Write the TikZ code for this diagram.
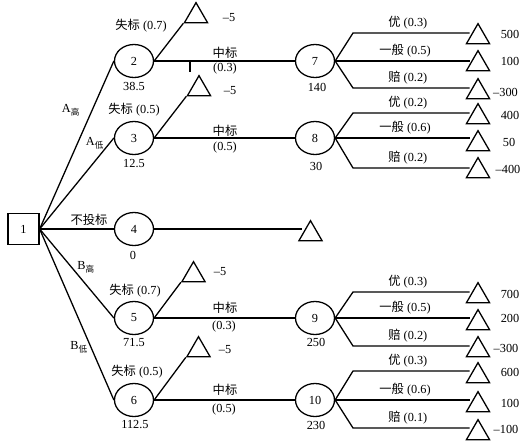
\documentclass[tikz,border=0pt]{standalone}
\usepackage{fontspec}
\setmainfont{Liberation Serif}
\newfontfamily\cjk{Noto Sans CJK SC}
\usetikzlibrary{shapes.geometric}
\newcommand{\zh}[1]{{\cjk #1}}

\begin{document}
\begin{tikzpicture}[
  x=0.03cm, y=-0.03cm,
  font=\fontsize{10.5}{12}\selectfont,
  line width=1.1pt,
  decision/.style={draw, minimum size=0.93cm, inner sep=0},
  chance/.style={draw, ellipse, minimum width=1.17cm, minimum height=0.99cm, inner sep=0},
  leaf/.style={draw, regular polygon, regular polygon sides=3, minimum size=0.8cm, inner sep=0},
  lbl/.style={inner sep=1pt}
]
\useasboundingbox (0,0) rectangle (529,446);

% Decision and chance nodes
\node[decision] (d1) at (23.5,229) {1};
\node[chance] (c2) at (134,61) {2};
\node[chance] (c3) at (134,138) {3};
\node[chance] (c4) at (134,229) {4};
\node[chance] (c5) at (134,318) {5};
\node[chance] (c6) at (134,400) {6};
\node[chance] (c7) at (315,61) {7};
\node[chance] (c8) at (315,138) {8};
\node[chance] (c9) at (315,318) {9};
\node[chance] (c10) at (315,400) {10};

% Expected values
\node[lbl] (v2) at (134,86) {38.5};
\node[lbl] (v3) at (134,164) {12.5};
\node[lbl] (v4) at (133,255) {0};
\node[lbl] (v5) at (134,343) {71.5};
\node[lbl] (v6) at (135,425) {112.5};
\node[lbl] (v7) at (317,87) {140};
\node[lbl] (v8) at (316,166) {30};
\node[lbl] (v9) at (316,342) {250};
\node[lbl] (v10) at (316,425) {230};

% Lost-bid end points
\node[leaf] (s2) at (196,16) {};
\node[leaf] (s3) at (199,89) {};
\node[leaf] (s4) at (310.5,234) {};
\node[leaf] (s5) at (193.5,275) {};
\node[leaf] (s6) at (198.5,350) {};
\node[lbl] (r2) at (229,18) {--5};
\node[lbl] (r3) at (230,91) {--5};
\node[lbl] (r5) at (220,272) {--5};
\node[lbl] (r6) at (225,350) {--5};

% Outcome end points
\node[leaf] (t7a) at (478,37) {};
\node[leaf] (t7b) at (478,64) {};
\node[leaf] (t7c) at (478,92) {};
\node[leaf] (t8a) at (478,117) {};
\node[leaf] (t8b) at (478,144) {};
\node[leaf] (t8c) at (478,171) {};
\node[leaf] (t9a) at (478,296) {};
\node[leaf] (t9b) at (478,323) {};
\node[leaf] (t9c) at (478,350) {};
\node[leaf] (t10a) at (478,376) {};
\node[leaf] (t10b) at (478,405) {};
\node[leaf] (t10c) at (478,433) {};

\node[lbl] (p7a) at (510,34) {500};
\node[lbl] (p7b) at (510,61) {100};
\node[lbl] (p7c) at (505.5,92) {--300};
\node[lbl] (p8a) at (510,115) {400};
\node[lbl] (p8b) at (509,142) {50};
\node[lbl] (p8c) at (508,169) {--400};
\node[lbl] (p9a) at (510,294) {700};
\node[lbl] (p9b) at (510,318) {200};
\node[lbl] (p9c) at (506,348) {--300};
\node[lbl] (p10a) at (510,372) {600};
\node[lbl] (p10b) at (510,403) {100};
\node[lbl] (p10c) at (506,429) {--100};

% Bid options
\draw (d1.east) -- (c2.west);
\draw (d1.east) -- (c3.west);
\draw (d1.east) -- (c4.west);
\draw (d1.east) -- (c5.west);
\draw (d1.east) -- (c6.west);
\node[lbl] (a1) at (71,110) {A\textsubscript{\zh{高}}};
\node[lbl] (a2) at (95,143) {A\textsubscript{\zh{低}}};
\node[lbl] (a3) at (89,220) {\zh{不投标}};
\node[lbl] (a4) at (86,267) {B\textsubscript{\zh{高}}};
\node[lbl] (a5) at (79,347) {B\textsubscript{\zh{低}}};

% Win / lose
\draw (c2.east) -- (s2.corner 2);
\draw (c3.east) -- (s3.corner 2);
\draw (c5.east) -- (s5.corner 2);
\draw (c6.east) -- (s6.corner 2);
\draw (c2.east) -- (c7.west);
\draw (c3.east) -- (c8.west);
\draw (c5.east) -- (c9.west);
\draw (c6.east) -- (c10.west);
\draw (c4.east) -- (c4.east -| s4.west);
\coordinate (tk) at (190,61);
\draw (tk) -- ++(0,11);

\node[lbl] (f2) at (141,26) {\zh{失标} (0.7)};
\node[lbl] (f3) at (134,110) {\zh{失标} (0.5)};
\node[lbl] (f5) at (135,291) {\zh{失标} (0.7)};
\node[lbl] (f6) at (137,372) {\zh{失标} (0.5)};
\node[lbl] (w2) at (225,53) {\zh{中标}};
\node[lbl] (q2) at (225,69) {(0.3)};
\node[lbl] (w3) at (225,131) {\zh{中标}};
\node[lbl] (q3) at (225,148) {(0.5)};
\node[lbl] (w5) at (225,308) {\zh{中标}};
\node[lbl] (q5) at (224,327) {(0.3)};
\node[lbl] (w6) at (225,390) {\zh{中标}};
\node[lbl] (q6) at (224,410) {(0.5)};

% Project outcomes
\coordinate (e7a) at (353,33);
\coordinate (e7c) at (353,88);
\coordinate (e8a) at (353,113);
\coordinate (e8c) at (353,168);
\coordinate (e9a) at (353,292);
\coordinate (e9c) at (353,346);
\coordinate (e10a) at (353,371);
\coordinate (e10c) at (353,428);

\draw (c7.east) -- (e7a) -- node[lbl, above=2pt, pos=0.47] {\zh{优} (0.3)} (e7a -| t7a.west);
\draw (c7.east) -- node[lbl, above=2pt, pos=0.52] {\zh{一般} (0.5)} (c7.east -| t7b.west);
\draw (c7.east) -- (e7c) -- node[lbl, above=2pt, pos=0.47] {\zh{赔} (0.2)} (e7c -| t7c.west);
\draw (c8.east) -- (e8a) -- node[lbl, above=2pt, pos=0.47] {\zh{优} (0.2)} (e8a -| t8a.west);
\draw (c8.east) -- node[lbl, above=2pt, pos=0.52] {\zh{一般} (0.6)} (c8.east -| t8b.west);
\draw (c8.east) -- (e8c) -- node[lbl, above=2pt, pos=0.47] {\zh{赔} (0.2)} (e8c -| t8c.west);
\draw (c9.east) -- (e9a) -- node[lbl, above=2pt, pos=0.47] {\zh{优} (0.3)} (e9a -| t9a.west);
\draw (c9.east) -- node[lbl, above=2pt, pos=0.52] {\zh{一般} (0.5)} (c9.east -| t9b.west);
\draw (c9.east) -- (e9c) -- node[lbl, above=2pt, pos=0.47] {\zh{赔} (0.2)} (e9c -| t9c.west);
\draw (c10.east) -- (e10a) -- node[lbl, above=2pt, pos=0.47] {\zh{优} (0.3)} (e10a -| t10a.west);
\draw (c10.east) -- node[lbl, above=2pt, pos=0.52] {\zh{一般} (0.6)} (c10.east -| t10b.west);
\draw (c10.east) -- (e10c) -- node[lbl, above=2pt, pos=0.47] {\zh{赔} (0.1)} (e10c -| t10c.west);
\end{tikzpicture}
\end{document}
